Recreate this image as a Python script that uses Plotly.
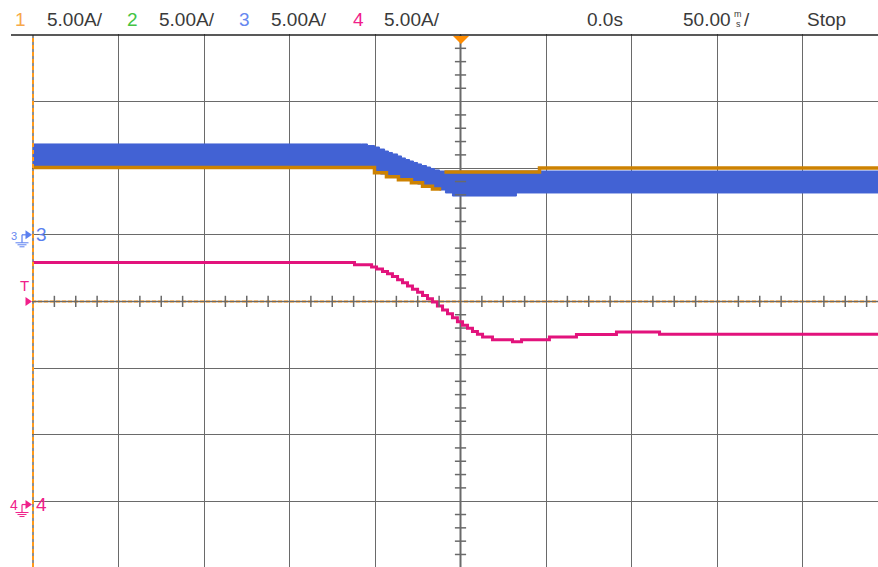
import plotly.graph_objects as go

# ---------------- scope settings ----------------
AMPS_PER_DIV = 5.0
MS_PER_DIV = 50.0
CH1_OFFSET = 1.0    # divisions
CH3_OFFSET = 1.0
CH4_OFFSET = -3.05

header_scales = ["5.00A/", "5.00A/", "5.00A/", "5.00A/"]
header_channels = ["1", "2", "3", "4"]
time_pos = "0.0s"
time_base = "50.00"
run_state = "Stop"

# ---------------- channel 4 (pink) ----------------
ch4_t = [-250, -62.0, -52.0, -49.1, -45.6, -42.7, -39.8, -36.8, -33.9, -31.0, -28.1,
         -25.1, -22.2, -19.3, -16.4, -13.5, -10.5, -7.6, -4.7, -1.8, 1.2, 4.1, 7.0,
         9.9, 12.9, 18.7, 30.4, 35.7, 52.0, 67.8, 91.2, 116.4, 245]
ch4_a = [18.17, 18.00, 17.83, 17.68, 17.50, 17.32, 17.12, 16.88, 16.65, 16.41, 16.17,
         15.93, 15.69, 15.45, 15.20, 14.91, 14.61, 14.32, 14.03, 13.73, 13.46, 13.23,
         12.99, 12.78, 12.57, 12.37, 12.22, 12.37, 12.57, 12.77, 12.95, 12.78, 12.78]

# ---------------- channel 3 (blue band, envelope) ----------------
ch3_up_t = [-250, -57.9, -54.4, -50.3, -47.4, -44.4, -42.1, -39.8, -36.8, -34.5, -32.2,
            -29.8, -27.5, -25.1, -22.8, -19.9, -17.5, -15.2, -12.3, 245]
ch3_up_a = [6.82, 6.82, 6.70, 6.59, 6.44, 6.29, 6.18, 6.07, 5.92, 5.77, 5.65,
            5.54, 5.43, 5.32, 5.20, 5.09, 4.98, 4.87, 4.79, 4.79]
ch3_lo_t = [-250, -53.2, -50.3, -46.8, -43.3, -39.8, -36.3, -32.7, -28.7, -25.1, -22.2,
            -19.9, -16.4, -12.3, -8.8, -4.7, 32.7, 245]
ch3_lo_a = [5.09, 5.09, 4.71, 4.56, 4.41, 4.30, 4.19, 4.08, 3.96, 3.81, 3.70,
            3.59, 3.48, 3.36, 3.14, 2.91, 3.14, 3.14]

# ---------------- channel 1 (orange) ----------------
ch1_t = [-250, -53.2, -50.3, -43.3, -36.3, -28.7, -22.2, -16.4, -12.3, None,
         -9.4, 44.4, 46.2, 245]
ch1_a = [5.05, 5.05, 4.66, 4.36, 4.14, 3.91, 3.65, 3.43, 3.31, None,
         4.71, 4.71, 5.02, 5.02]


def to_div(vals, off):
    return [None if v is None else off + v / AMPS_PER_DIV for v in vals]


W, H = 878, 567
ML, MT = 32, 34
PX_DIV_X, PX_DIV_Y = 85.5, 66.6
x0 = -5 * MS_PER_DIV - 1 / PX_DIV_X * MS_PER_DIV
x1 = x0 + (W - ML) / PX_DIV_X * MS_PER_DIV
y1 = 4 + 1 / PX_DIV_Y
y0 = y1 - (H - MT) / PX_DIV_Y


def PX(x):
    return (x - ML) / (W - ML)


def PY(y):
    return (H - y) / (H - MT)


C_BLUE = "#4262d4"
C_ORANGE = "#cd8202"
C_PINK = "#e2137c"
C_TRIG = "#ff9a1a"
C_GRID = "#6a6a6a"

fig = go.Figure()

# blue band
fig.add_trace(go.Scatter(x=ch3_lo_t, y=to_div(ch3_lo_a, CH3_OFFSET), mode="lines",
                         line=dict(color=C_BLUE, width=1, shape="hv"), hoverinfo="skip",
                         showlegend=False))
fig.add_trace(go.Scatter(x=ch3_up_t, y=to_div(ch3_up_a, CH3_OFFSET), mode="lines",
                         line=dict(color=C_BLUE, width=1, shape="hv"), fill="tonexty",
                         fillcolor=C_BLUE, hoverinfo="skip", showlegend=False))
# orange
fig.add_trace(go.Scatter(x=ch1_t, y=to_div(ch1_a, CH1_OFFSET), mode="lines",
                         line=dict(color=C_ORANGE, width=3.5, shape="hv"),
                         connectgaps=False, showlegend=False))
# pink
fig.add_trace(go.Scatter(x=ch4_t, y=to_div(ch4_a, CH4_OFFSET), mode="lines",
                         line=dict(color=C_PINK, width=3, shape="hv"), showlegend=False))

# center axis minor ticks
vt = [k / 5 for k in range(-20, 21) if k % 5 != 0]
fig.add_trace(go.Scatter(x=[0] * len(vt), y=vt, mode="markers",
                         marker=dict(symbol="line-ew", size=8, line=dict(color=C_GRID, width=1.5)),
                         hoverinfo="skip", showlegend=False))
ht = [k * MS_PER_DIV / 4 for k in range(-20, 20) if k % 4 != 0]
fig.add_trace(go.Scatter(x=ht, y=[0] * len(ht), mode="markers",
                         marker=dict(symbol="line-ns", size=8, line=dict(color=C_GRID, width=1.5)),
                         hoverinfo="skip", showlegend=False))

shapes = []
# center axes / left edge
shapes.append(dict(type="line", xref="x", yref="y", x0=0, x1=0, y0=y0, y1=4,
                   line=dict(color=C_GRID, width=2), layer="below"))
shapes.append(dict(type="line", xref="x", yref="y", x0=x0, x1=x1, y0=0, y1=0,
                   line=dict(color=C_GRID, width=1.5), layer="below"))
shapes.append(dict(type="line", xref="x", yref="y", x0=x0, x1=x1, y0=0, y1=0,
                   line=dict(color=C_TRIG, width=2, dash="4px,2px"), layer="below"))
shapes.append(dict(type="line", xref="x", yref="y", x0=-250, x1=-250, y0=y0, y1=4,
                   line=dict(color=C_GRID, width=1.5), layer="below"))
shapes.append(dict(type="line", xref="x", yref="y", x0=-250, x1=-250, y0=y0, y1=4,
                   line=dict(color=C_TRIG, width=2, dash="4px,3px"), layer="above"))
# top border
shapes.append(dict(type="line", xref="paper", yref="paper", x0=PX(11), x1=1.0,
                   y0=PY(35), y1=PY(35), line=dict(color="#222222", width=1.5)))
# trigger position triangle
shapes.append(dict(type="path", xref="paper", yref="paper",
                   path=f"M {PX(453)},{PY(36)} L {PX(469)},{PY(36)} L {PX(461)},{PY(44)} Z",
                   fillcolor="#ff8c00", line=dict(width=0)))


def tri_right(yc, color):
    return dict(type="path", xref="paper", yref="paper",
                path=f"M {PX(25.5)},{PY(yc-4.5)} L {PX(25.5)},{PY(yc+4.5)} L {PX(32)},{PY(yc)} Z",
                fillcolor=color, line=dict(width=0))


def ground(yc, color):
    out = [dict(type="line", xref="paper", yref="paper", x0=PX(22), x1=PX(26), y0=PY(yc), y1=PY(yc),
                line=dict(color=color, width=1.2)),
           dict(type="line", xref="paper", yref="paper", x0=PX(22), x1=PX(22), y0=PY(yc), y1=PY(yc + 8),
                line=dict(color=color, width=1.2))]
    for dy, hw in [(8, 6.5), (10, 4.5), (12, 2.5)]:
        out.append(dict(type="line", xref="paper", yref="paper", x0=PX(22 - hw), x1=PX(22 + hw),
                        y0=PY(yc + dy), y1=PY(yc + dy), line=dict(color=color, width=1)))
    return out


def div_to_px(d):
    return MT + (y1 - d) * PX_DIV_Y


y3 = div_to_px(CH3_OFFSET)
y4 = div_to_px(CH4_OFFSET)
yT = div_to_px(0)
shapes.append(tri_right(y3, "#5a7ff0"))
shapes += ground(y3, "#5a7ff0")
shapes.append(tri_right(y4, "#f0208a"))
shapes += ground(y4, "#f0208a")
shapes.append(tri_right(yT, "#f0208a"))

FONT = "Liberation Sans, Arial, sans-serif"
ann = []


def text(s, x, y, color="#3a3a3a", size=19, xanchor="left"):
    ann.append(dict(text=s, x=PX(x), y=PY(y), xref="paper", yref="paper", showarrow=False,
                    xanchor=xanchor, yanchor="middle", font=dict(family=FONT, size=size, color=color)))


ch_colors = ["#f7a94a", "#44c444", "#6688f0", "#f0208a"]
ch_x = [20, 132, 245, 358]
sc_x = [45, 157, 269, 382]
for c, col, cx, sx, sc in zip(header_channels, ch_colors, ch_x, sc_x, header_scales):
    text(c, cx, 20, color=col, xanchor="center")
    text(sc, sx, 20)
text(time_pos, 585, 20)
text(time_base, 733, 20, xanchor="right")
text("m", 738, 14, size=9, xanchor="center")
text("s", 738, 24, size=9, xanchor="center")
text("/", 742, 20)
text(run_state, 805, 20)

# left channel markers
text("3", 14, 236, color="#6688f0", size=11, xanchor="center")
text("3", 41, y3, color="#5a7ff0", size=19, xanchor="center")
text("4", 14, y4, color="#f0208a", size=14, xanchor="center")
text("4", 41, y4, color="#f0208a", size=19, xanchor="center")
text("T", 24, 285, color="#f0208a", size=15, xanchor="center")

fig.update_layout(
    width=W, height=H,
    margin=dict(l=ML, r=0, t=MT, b=0),
    paper_bgcolor="white", plot_bgcolor="white",
    shapes=shapes, annotations=ann,
    xaxis=dict(range=[x0, x1], tick0=-250, dtick=MS_PER_DIV, showgrid=True, gridcolor=C_GRID,
               gridwidth=1.2, zeroline=False, showticklabels=False, ticks="", showline=False,
               fixedrange=True),
    yaxis=dict(range=[y0, y1], tick0=0, dtick=1, showgrid=True, gridcolor=C_GRID,
               gridwidth=1.2, zeroline=False, showticklabels=False, ticks="", showline=False,
               fixedrange=True),
)

fig.write_html("out.html")
